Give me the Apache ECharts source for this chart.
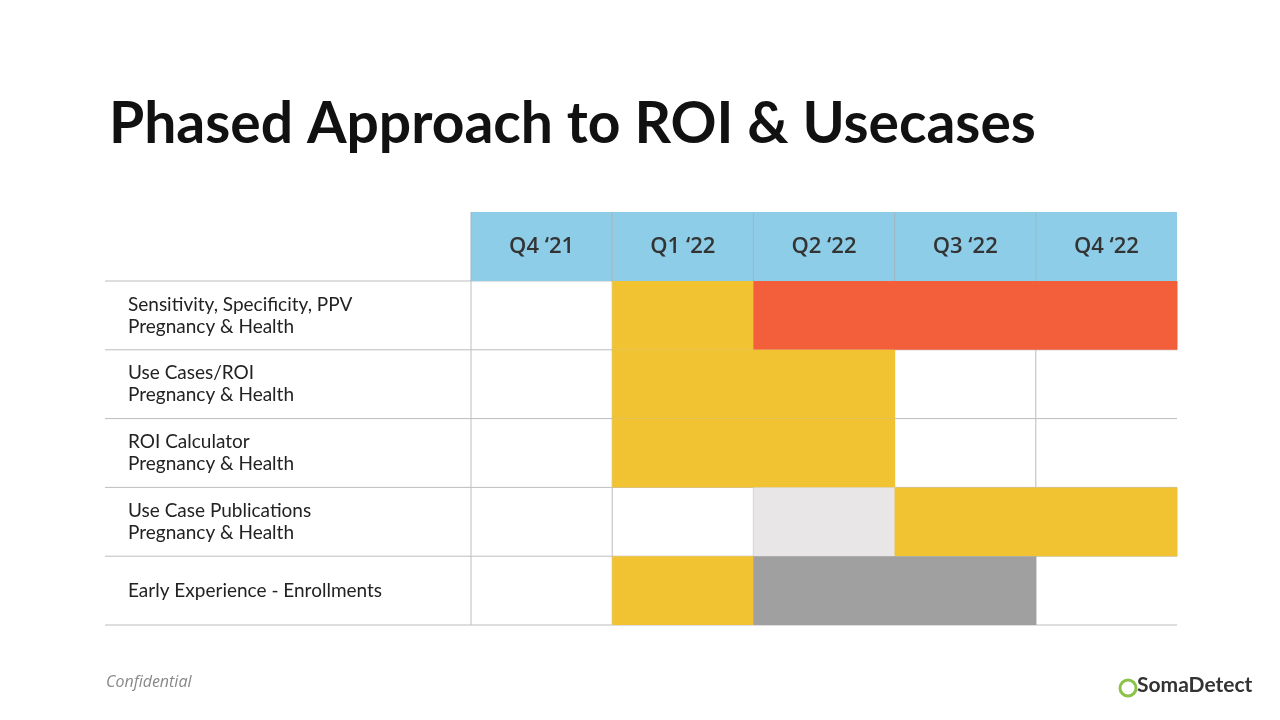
<!DOCTYPE html>
<html><head><meta charset="utf-8">
<script src="https://cdn.jsdelivr.net/npm/echarts@6/dist/echarts.min.js"></script>
<style>html,body{margin:0;padding:0;background:#fff}#c{width:1280px;height:720px}</style>
</head><body><div id="c"></div>
<script>
const quarters = ["Q4 \u201821","Q1 \u201822","Q2 \u201822","Q3 \u201822","Q4 \u201822"];
const tasks = [
  "Sensitivity, Specificity, PPV\nPregnancy & Health",
  "Use Cases/ROI\nPregnancy & Health",
  "ROI Calculator\nPregnancy & Health",
  "Use Case Publications\nPregnancy & Health",
  "Early Experience - Enrollments"
];
// 0 none, 1 yellow, 2 red-orange, 3 light gray, 4 gray
const status = [
  [0,1,2,2,2],
  [0,1,1,0,0],
  [0,1,1,0,0],
  [0,0,3,1,1],
  [0,1,4,4,0]
];
const colors = ["#ffffff","#F1C232","#F35F3B","#E8E6E6","#A0A0A0"];
const cells = [];
status.forEach((r,ri)=>r.forEach((v,ci)=>cells.push([ci,ri,v])));
const headerCells = quarters.map((q,i)=>[i,0]);
const LINE = "#BDBDBD";

const chart = echarts.init(document.getElementById('c'));
chart.setOption({
  animation:false,
  title:{text:"Phased Approach to ROI & Usecases",left:104,top:91,
    textStyle:{fontFamily:"Lato",fontWeight:"bold",fontSize:57,color:"#111"}},
  graphic:[
    {type:'text',left:106,top:674,style:{text:"Confidential",font:"italic 16px 'Open Sans'",fill:"#888"}},
    {type:'text',left:1137,top:675,style:{text:"SomaDetect",font:"bold 21px 'Liberation Sans Narrow', Lato",fill:"#333"}},
    {type:'circle',shape:{cx:1128,cy:688,r:8},style:{fill:'none',stroke:'#8BC34A',lineWidth:3}}
  ],
  grid:[
    {left:471,right:103,top:281,bottom:95},
    {left:471,right:103,top:212,height:69}
  ],
  xAxis:[
    {gridIndex:0,type:'category',data:quarters,show:false},
    {gridIndex:1,type:'category',data:quarters,show:false}
  ],
  yAxis:[
    {gridIndex:0,type:'category',data:tasks,inverse:true,
      axisLine:{show:false},axisTick:{show:false},splitLine:{show:false},
      axisLabel:{align:'left',margin:343,fontFamily:'Lato',fontSize:19,color:'#222',lineHeight:22}},
    {gridIndex:1,type:'category',data:['h'],show:false}
  ],
  series:[
    {type:'custom',xAxisIndex:0,yAxisIndex:0,data:cells,z:1,
      renderItem:(p,api)=>{
        const c=api.coord([api.value(0),api.value(1)]);const s=api.size([1,1]);
        const x0=c[0]-s[0]/2,y0=c[1]-s[1]/2,x1=x0+s[0],y1=y0+s[1];
        const ci=api.value(0);
        const children=[
          {type:'line',shape:{x1:x0,y1:y0,x2:x0,y2:y1},style:{stroke:LINE,lineWidth:1}},
          {type:'line',shape:{x1:ci===0?105:x0,y1:y1,x2:x1,y2:y1},style:{stroke:LINE,lineWidth:1}}
        ];
        if(api.value(1)===0) children.push({type:'line',shape:{x1:ci===0?105:x0,y1:y0,x2:x1,y2:y0},style:{stroke:LINE,lineWidth:1}});
        return {type:'group',children};
      }},
    {type:'custom',xAxisIndex:0,yAxisIndex:0,data:cells.filter(d=>d[2]>0),z:2,
      renderItem:(p,api)=>{
        const c=api.coord([api.value(0),api.value(1)]);const s=api.size([1,1]);
        return {type:'rect',shape:{x:c[0]-s[0]/2,y:c[1]-s[1]/2,width:s[0]+0.5,height:s[1]},
          style:{fill:colors[api.value(2)]}};
      }},
    {type:'custom',xAxisIndex:1,yAxisIndex:1,data:headerCells,z:2,
      renderItem:(p,api)=>{
        const i=api.value(0);const c=api.coord([i,0]);const s=api.size([1,1]);
        const x0=c[0]-s[0]/2,y0=c[1]-s[1]/2;
        return {type:'group',children:[
          {type:'rect',shape:{x:x0,y:y0,width:s[0],height:s[1]},style:{fill:'#8ECDE8'}},
          {type:'line',shape:{x1:x0,y1:y0,x2:x0,y2:y0+s[1]},style:{stroke:'#9FB4C0',lineWidth:1}},
          {type:'text',style:{text:quarters[i],x:c[0],y:c[1],align:'center',verticalAlign:'middle',
            font:"600 22px 'Open Sans'",fill:'#333'}}
        ]};
      }}
  ]
});
</script></body></html>
